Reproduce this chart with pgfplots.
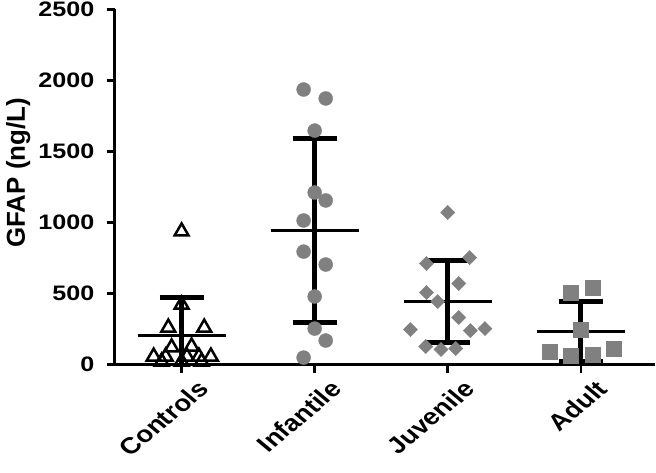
\documentclass[border=0pt]{standalone}
\usepackage{pgfplots}
\pgfplotsset{compat=1.18}
\usepackage{fontspec}
\setmainfont{Liberation Sans}
\newfontfamily\ytfont[FakeStretch=1.2]{Liberation Sans}
\definecolor{pgray}{RGB}{128,128,128}
\begin{document}
\begin{tikzpicture}
\begin{axis}[
  scale only axis, width=540bp, height=355bp,
  xmin=-0.504, xmax=3.556, ymin=0, ymax=2500,
  axis x line=bottom, axis y line=left,
  axis line style={-, line width=2.5bp},
  every tick/.style={black, line width=2.5bp},
  major tick length=8bp, tick align=outside,
  xtick={0,1,2,3}, xticklabels={Controls,Infantile,Juvenile,Adult},
  ytick={0,500,1000,1500,2000,2500},
  /pgf/number format/assume math mode=true,
  /pgf/number format/1000 sep={},
  yticklabel style={font=\ytfont\fontsize{21}{24}\selectfont\bfseries, inner sep=2pt, xshift=-10bp},
  xticklabel style={font=\fontsize{23}{26}\selectfont\bfseries, xscale=1.2, rotate=45, anchor=north east, inner sep=1pt, xshift=5bp, yshift=-12bp},
  ylabel={GFAP (ng/L)},
  ylabel style={font=\fontsize{26}{29}\selectfont\bfseries, at={(ticklabel cs:0.54)}, inner ysep=6bp},
  clip=false,
]
% Controls
\addplot[only marks, mark=triangle, mark size=8bp, mark options={draw=black, fill=white, line width=2.5bp}] coordinates {
(0,937) (0,422) (-0.1,260) (0.17,260) (-0.075,120) (0.075,127)
(-0.21,56) (-0.12,56) (0.04,56) (0.13,56) (0.22,56)
(-0.15,21) (0,21) (0.15,21)
};
% Infantile
\addplot[only marks, mark=*, mark size=7bp, pgray, mark options={draw=none, fill=pgray}] coordinates {
(0.917,1936) (1.083,1873) (1,1647) (1,1211) (1.083,1155) (0.917,1014)
(0.917,795) (1.083,704) (1,479) (1,253) (1.083,169) (0.917,49)
};
% Juvenile
\addplot[only marks, mark=square*, mark size=5bp, pgray, mark options={draw=none, fill=pgray, rotate=45}] coordinates {
(2,1070) (2.165,753) (1.84,711) (2.083,570) (1.84,507) (1.925,443)
(2.083,331) (1.72,246) (2.17,239) (2.28,253) (1.835,127) (1.95,106) (2.06,113)
};
% Adult
\addplot[only marks, mark=square*, mark size=7.5bp, pgray, mark options={draw=none, fill=pgray}] coordinates {
(2.925,507) (3.09,542) (3,246) (2.77,92) (2.925,63) (3.09,70) (3.25,113)
};
% Error bars: vertical
\addplot[black, line width=5bp] coordinates {(0,0) (0,472)};
\addplot[black, line width=5bp] coordinates {(1,296) (1,1591)};
\addplot[black, line width=5bp] coordinates {(2,155) (2,732)};
\addplot[black, line width=5bp] coordinates {(3,21) (3,443)};
% caps
\addplot[black, line width=5bp] coordinates {(-0.165,472) (0.165,472)};
\addplot[black, line width=5bp] coordinates {(0.835,1591) (1.165,1591)};
\addplot[black, line width=5bp] coordinates {(0.835,296) (1.165,296)};
\addplot[black, line width=5bp] coordinates {(1.835,732) (2.165,732)};
\addplot[black, line width=5bp] coordinates {(1.835,155) (2.165,155)};
\addplot[black, line width=5bp] coordinates {(2.835,443) (3.165,443)};
\addplot[black, line width=5bp] coordinates {(2.835,21) (3.165,21)};
% means
\addplot[black, line width=3bp] coordinates {(-0.33,204) (0.33,204)};
\addplot[black, line width=3bp] coordinates {(0.67,943) (1.33,943)};
\addplot[black, line width=3bp] coordinates {(1.67,443) (2.33,443)};
\addplot[black, line width=3bp] coordinates {(2.67,232) (3.33,232)};
% extend bounding box below the rotated labels
\path (rel axis cs:0,-0.305);
\end{axis}
\end{tikzpicture}
\end{document}
